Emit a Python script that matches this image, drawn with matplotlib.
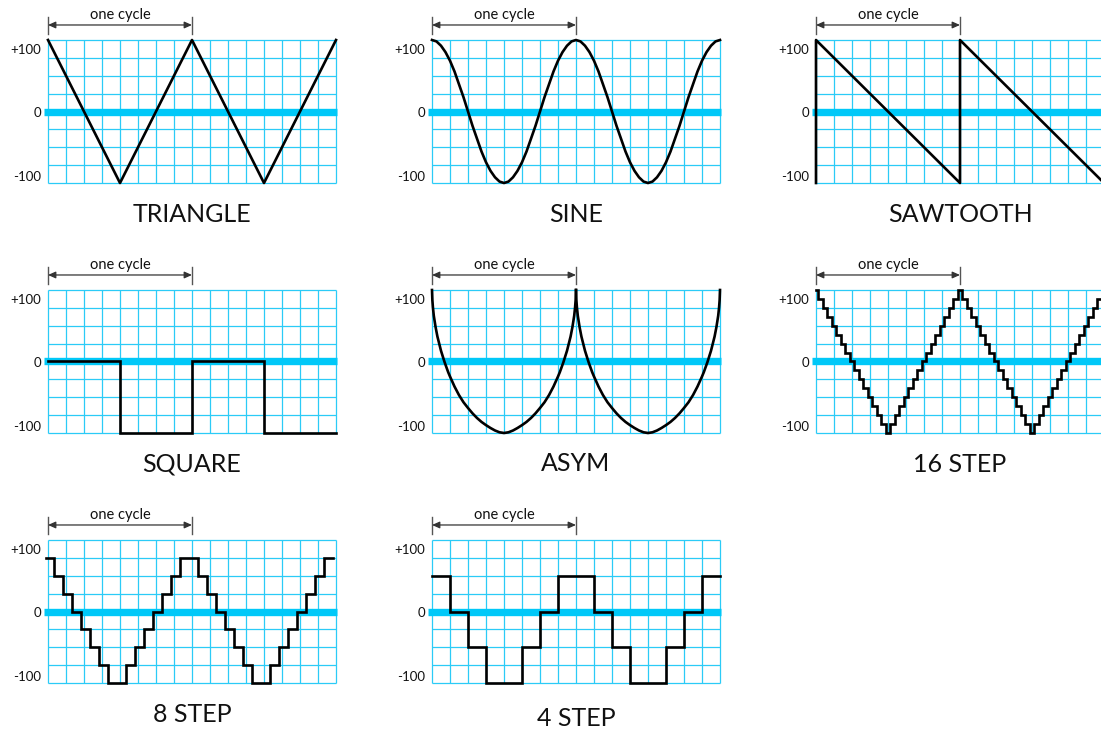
import numpy as np
import matplotlib
matplotlib.use("Agg")
import matplotlib.pyplot as plt
from matplotlib import transforms

plt.rcParams['font.family'] = ['Lato', 'DejaVu Sans']

# ---------------- data ----------------
titles = ["TRIANGLE", "SINE", "SAWTOOTH", "SQUARE", "ASYM", "16 STEP", "8 STEP", "4 STEP"]
y_tick_values = [100, 0, -100]
y_tick_labels = ["+100", "0", "-100"]
cycle_label = "one cycle"
cycle_length = 8
grid_columns = 16
grid_row_values = [-100, -75, -50, -25, 0, 25, 50, 75, 100]

triangle_x = [0, 4, 8, 12, 16]
triangle_y = [100, -100, 100, -100, 100]

sine_y = [100, 98, 92, 83, 71, 56, 38, 20, 0, -20, -38, -56, -71, -83, -92, -98,
          -100, -98, -92, -83, -71, -56, -38, -20, 0, 20, 38, 56, 71, 83, 92, 98,
          100, 98, 92, 83, 71, 56, 38, 20, 0, -20, -38, -56, -71, -83, -92, -98,
          -100, -98, -92, -83, -71, -56, -38, -20, 0, 20, 38, 56, 71, 83, 92, 98, 100]

saw_x = [0, 0, 8, 8, 16]
saw_y = [-100, 100, -100, 100, -100]

square_x = [0, 4, 4, 8, 8, 12, 12, 16]
square_y = [0, 0, -100, -100, 0, 0, -100, -100]

asym_x = [0, 0.02, 0.05, 0.1, 0.15, 0.2, 0.3, 0.4, 0.5, 0.6, 0.7, 0.8, 0.9, 1.0, 1.25, 1.5, 1.75,
          2.0, 2.25, 2.5, 2.75, 3.0, 3.25, 3.5, 3.75, 4.0,
          4.25, 4.5, 4.75, 5.0, 5.25, 5.5, 5.75, 6.0, 6.25, 6.5, 6.75, 7.0,
          7.1, 7.2, 7.3, 7.4, 7.5, 7.6, 7.7, 7.8, 7.85, 7.9, 7.95, 7.98, 8.0]
asym_y = [100, 86, 76, 64, 56, 48, 35, 25, 15, 7, -1, -8, -15, -21, -35, -47, -57,
          -65, -72.5, -79, -84.5, -89, -93, -96.5, -99, -100,
          -99, -96.5, -93, -89, -84.5, -79, -72.5, -65, -57, -47, -35, -21,
          -15, -8, -1, 7, 15, 25, 35, 48, 56, 64, 76, 86, 100]
asym_cycle_offsets = [0, 8]

step16_levels = [100, 87.5, 75, 62.5, 50, 37.5, 25, 12.5, 0, -12.5, -25, -37.5, -50, -62.5, -75, -87.5,
                 -100, -87.5, -75, -62.5, -50, -37.5, -25, -12.5, 0, 12.5, 25, 37.5, 50, 62.5, 75, 87.5,
                 100, 87.5, 75, 62.5, 50, 37.5, 25, 12.5, 0, -12.5, -25, -37.5, -50, -62.5, -75, -87.5,
                 -100, -87.5, -75, -62.5, -50, -37.5, -25, -12.5, 0, 12.5, 25, 37.5, 50, 62.5, 75, 87.5,
                 100]
step8_levels = [75, 50, 25, 0, -25, -50, -75, -100, -100, -75, -50, -25, 0, 25, 50, 75,
                75, 50, 25, 0, -25, -50, -75, -100, -100, -75, -50, -25, 0, 25, 50, 75]
step4_levels = [50, 0, -50, -100, -100, -50, 0, 50, 50, 0, -50, -100, -100, -50, 0, 50]

# ---------------- style / layout ----------------
W, H = 1101, 730
GRID = '#2bcbf7'
ZERO = '#00c8f8'
INK = '#111111'
PW, PH = 288, 143
col_left = [48, 432, 816]
row_top = [40, 290, 540]

fig = plt.figure(figsize=(W / 100, H / 100), dpi=100)


def make_axes(col, row):
    ax = fig.add_axes([col_left[col] / W, 1 - (row_top[row] + PH) / H, PW / W, PH / H])
    ax.set_xlim(0, grid_columns)
    ax.set_ylim(-100, 100)
    ax.axis('off')
    ax.vlines(range(grid_columns + 1), -100, 100, color=GRID, lw=0.9, clip_on=False, zorder=1)
    ax.hlines(grid_row_values, 0, grid_columns, color=GRID, lw=0.9, clip_on=False, zorder=1)
    ax.plot([-0.2, grid_columns + 0.06], [0, 0], color=ZERO, lw=5.3,
            solid_capstyle='butt', clip_on=False, zorder=2)
    for v, lab in zip(y_tick_values, y_tick_labels):
        dy = {100: -10, 0: -1.5, -100: 6}[v]
        tr = transforms.offset_copy(ax.transData, fig=fig, x=-7, y=dy, units='dots')
        ax.text(0, v, lab, transform=tr, ha='right', va='center', fontsize=9.5, color=INK)
    bt = transforms.blended_transform_factory(ax.transData, ax.transAxes)
    ax.annotate('', xy=(0, 1.105), xytext=(cycle_length, 1.105), xycoords=bt, textcoords=bt,
                arrowprops=dict(arrowstyle='<|-|>,head_length=0.45,head_width=0.2',
                                color='#333333', lw=0.9, shrinkA=0, shrinkB=0,
                                mutation_scale=10))
    for xx in (0, cycle_length):
        ax.plot([xx, xx], [1.042, 1.161], transform=bt, color='#555555', lw=1.0, clip_on=False)
    ax.text(cycle_length / 2, 1.178, cycle_label, transform=bt, ha='center', va='center',
            fontsize=10.5, color=INK)
    return ax, bt


def draw_steps(ax, levels, start, width, lo, hi):
    xs, ys = [], []
    for i, lvl in enumerate(levels):
        a = max(start + i * width, lo)
        b = min(start + (i + 1) * width, hi)
        if b <= a:
            continue
        xs += [a, b]
        ys += [lvl, lvl]
    ax.plot(xs, ys, color='black', lw=1.9, solid_joinstyle='miter', clip_on=False, zorder=3)


positions = [(0, 0), (1, 0), (2, 0), (0, 1), (1, 1), (2, 1), (0, 2), (1, 2)]
title_drop = [31, 31, 31, 31, 31, 32, 32, 36]
axes = []
for (c, r), t, d in zip(positions, titles, title_drop):
    ax, bt = make_axes(c, r)
    ax.text(grid_columns / 2, -d / PH, t, transform=bt, ha='center', va='center',
            fontsize=18, color=INK)
    axes.append(ax)

lw = 1.9
axes[0].plot(triangle_x, triangle_y, color='black', lw=lw, clip_on=False, zorder=3)
sine_x = np.linspace(0, grid_columns, len(sine_y))
axes[1].plot(sine_x, sine_y, color='black', lw=lw, clip_on=False, zorder=3)
axes[2].plot(saw_x, saw_y, color='black', lw=lw, clip_on=False, zorder=3)
axes[3].plot(square_x, square_y, color='black', lw=lw, solid_joinstyle='miter', clip_on=False, zorder=3)
for off in asym_cycle_offsets:
    axes[4].plot(np.array(asym_x) + off, asym_y, color='black', lw=lw, clip_on=False, zorder=3)
draw_steps(axes[5], step16_levels, -0.125, 0.25, 0, 16)
draw_steps(axes[6], step8_levels, -0.15, 0.5, -0.12, 15.85)
draw_steps(axes[7], step4_levels, 0, 1, 0, 16)

fig.savefig('out.png', dpi=100)
